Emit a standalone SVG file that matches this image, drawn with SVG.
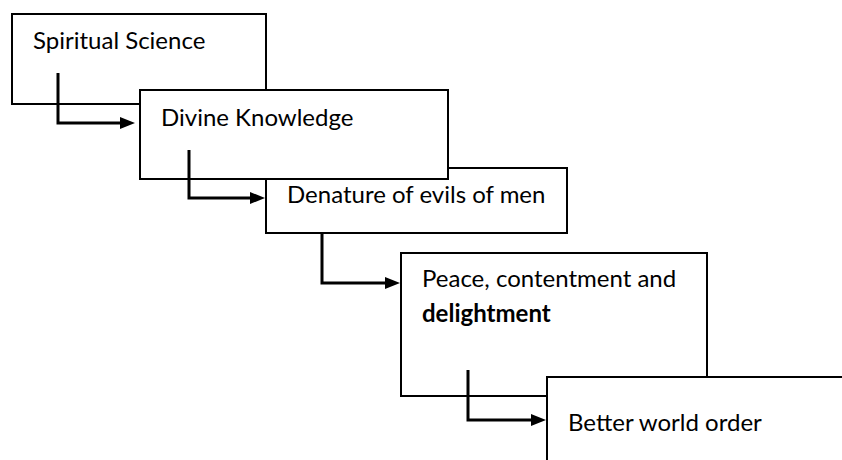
<svg xmlns="http://www.w3.org/2000/svg" width="842" height="460" viewBox="0 0 842 460">
  <defs>
    <style>
      .box { fill: #ffffff; stroke: #000000; stroke-width: 2; }
      .lbl { font-family: Lato, "Open Sans", "Liberation Sans", sans-serif; font-size: 24px; fill: #000000; }
      .bold { font-weight: bold; }
      .conn { fill: none; stroke: #000000; stroke-width: 3; stroke-linejoin: miter; }
    </style>
    <marker id="arrow" markerUnits="userSpaceOnUse" markerWidth="16" markerHeight="14" refX="2" refY="6" orient="auto">
      <path d="M0,0 L15,6 L0,12 z" fill="#000000"/>
    </marker>
  </defs>
  <rect width="842" height="460" fill="#ffffff"/>
  <g id="node-spiritual-science">
    <rect class="box" x="12" y="14" width="254" height="90"/>
    <text class="lbl" x="33" y="49">Spiritual Science</text>
  </g>
  <g id="node-denature">
    <rect class="box" x="266" y="168" width="301" height="65"/>
    <text class="lbl" x="287" y="203">Denature of evils of men</text>
  </g>
  <g id="node-divine-knowledge">
    <rect class="box" x="140" y="90" width="308" height="89"/>
    <text class="lbl" x="161" y="126">Divine Knowledge</text>
  </g>
  <g id="node-peace">
    <rect class="box" x="401" y="253" width="306" height="143"/>
    <text class="lbl" x="422" y="287">Peace, contentment and</text>
    <text class="lbl bold" x="422" y="322">delightment</text>
  </g>
  <g id="node-better-world">
    <rect class="box" x="547" y="377" width="310" height="100"/>
    <text class="lbl" x="568" y="431">Better world order</text>
  </g>
  <g id="connectors">
    <path class="conn" d="M58,73 V123 H122" marker-end="url(#arrow)"/>
    <path class="conn" d="M189,150 V198 H252" marker-end="url(#arrow)"/>
    <path class="conn" d="M322,233 V283 H387" marker-end="url(#arrow)"/>
    <path class="conn" d="M468,370 V420 H533" marker-end="url(#arrow)"/>
  </g>
</svg>
